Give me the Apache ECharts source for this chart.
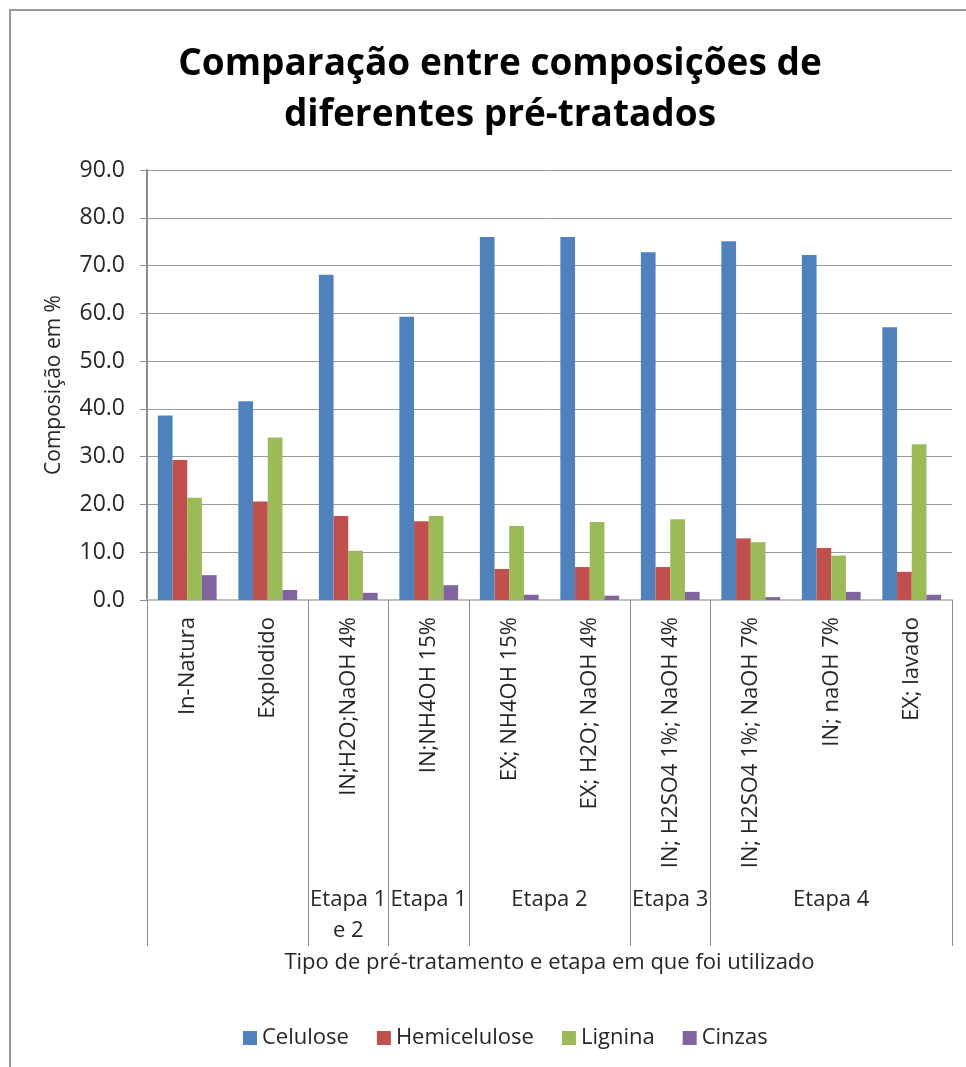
<!DOCTYPE html>
<html>
<head>
<meta charset="utf-8">
<script src="https://cdn.jsdelivr.net/npm/echarts@6/dist/echarts.min.js"></script>
<style>
  html, body { margin: 0; padding: 0; background: #ffffff; }
  #chart { width: 966px; height: 1067px; }
</style>
</head>
<body>
<div id="chart"></div>
<script>
// Pre-treatments (x categories)
const categories = [
  'In-Natura', 'Explodido', 'IN;H2O;NaOH 4%', 'IN;NH4OH 15%', 'EX; NH4OH 15%',
  'EX; H2O; NaOH 4%', 'IN; H2SO4 1%; NaOH 4%', 'IN; H2SO4 1%; NaOH 7%', 'IN; naOH 7%', 'EX; lavado'
];

// Composition in % for each component
const celulose     = [38.6, 41.6, 68.1, 59.3, 76.0, 76.0, 72.8, 75.1, 72.2, 57.1];
const hemicelulose = [29.3, 20.6, 17.6, 16.5,  6.5,  6.9,  6.9, 12.9, 10.9,  5.9];
const lignina      = [21.4, 34.0, 10.3, 17.6, 15.5, 16.3, 16.9, 12.1,  9.3, 32.6];
const cinzas       = [ 5.2,  2.1,  1.5,  3.1,  1.1,  0.9,  1.7,  0.6,  1.7,  1.1];

// Stage groups: label, first and last category index of each group
const stageNames = ['', 'Etapa 1\ne 2', 'Etapa 1', 'Etapa 2', 'Etapa 3', 'Etapa 4'];
const stageStart = [0, 2, 3, 4, 6, 7];
const stageEnd   = [1, 2, 3, 5, 6, 9];

const yTicks = { min: 0, max: 90, step: 10 };

const FONT = '"Open Sans", Lato, "Noto Sans", sans-serif';
const TXT = '#262626';
const FS = 22;

const chart = echarts.init(document.getElementById('chart'), null, { renderer: 'canvas' });

function barSeries(name, data, color) {
  return {
    name: name,
    type: 'bar',
    data: data,
    barGap: '0%',
    barCategoryGap: '27%',
    itemStyle: { color: color },
    emphasis: { disabled: true }
  };
}

chart.setOption({
  animation: false,
  backgroundColor: '#ffffff',
  textStyle: { fontFamily: FONT },
  title: {
    text: 'Comparação entre composições de\ndiferentes pré-tratados',
    left: 495,
    textAlign: 'center',
    top: 34,
    textStyle: {
      fontFamily: FONT,
      fontSize: 37,
      fontWeight: 'bold',
      lineHeight: 51,
      color: '#000000'
    }
  },
  grid: { left: 147, right: 14, top: 170, bottom: 467 },
  legend: {
    top: 1022,
    left: 238,
    icon: 'rect',
    itemWidth: 14,
    itemHeight: 14,
    itemGap: 28,
    textStyle: { fontFamily: FONT, fontSize: FS, color: TXT },
    data: ['Celulose', 'Hemicelulose', 'Lignina', 'Cinzas']
  },
  xAxis: {
    type: 'category',
    data: categories,
    name: 'Tipo de pré-tratamento e etapa em que foi utilizado',
    nameLocation: 'middle',
    nameGap: 352,
    nameTextStyle: { fontFamily: FONT, fontSize: FS, color: TXT },
    axisLine: { lineStyle: { color: '#c0c0c0', width: 2 } },
    axisTick: {
      show: true,
      length: 346,
      interval: function (index) { return stageStart.indexOf(index) >= 0; },
      lineStyle: { color: '#8c8c8c', width: 1 }
    },
    axisLabel: {
      interval: 0,
      rotate: 90,
      margin: 17,
      fontFamily: FONT,
      fontSize: FS,
      color: TXT
    },
    splitLine: { show: false }
  },
  yAxis: {
    type: 'value',
    min: yTicks.min,
    max: yTicks.max,
    interval: yTicks.step,
    name: 'Composição em %',
    nameLocation: 'middle',
    nameRotate: 90,
    nameGap: 82,
    nameTextStyle: { fontFamily: FONT, fontSize: 21, color: TXT },
    axisLine: { show: true, lineStyle: { color: '#8c8c8c', width: 2 } },
    axisTick: { show: true, length: 7, lineStyle: { color: '#8c8c8c' } },
    axisLabel: {
      margin: 22,
      fontFamily: FONT,
      fontSize: 23,
      color: TXT,
      formatter: function (v) { return v.toFixed(1); }
    },
    splitLine: { lineStyle: { color: '#999999', width: 1 } }
  },
  series: [
    barSeries('Celulose', celulose, '#4F81BD'),
    barSeries('Hemicelulose', hemicelulose, '#C0504D'),
    barSeries('Lignina', lignina, '#9BBB59'),
    barSeries('Cinzas', cinzas, '#8064A2')
  ]
});

// Stage labels centred under their group of categories, plus the outer chart frame
const stageTexts = stageNames.map(function (name, i) {
  const x0 = chart.convertToPixel({ xAxisIndex: 0 }, categories[stageStart[i]]);
  const x1 = chart.convertToPixel({ xAxisIndex: 0 }, categories[stageEnd[i]]);
  return {
    type: 'text',
    x: (x0 + x1) / 2,
    y: 884,
    style: {
      text: name,
      align: 'center',
      verticalAlign: 'top',
      fontFamily: FONT,
      fontSize: FS,
      lineHeight: 31,
      fill: TXT
    }
  };
});

chart.setOption({
  graphic: [
    {
      type: 'rect',
      shape: { x: 10, y: 10, width: 1000, height: 1100 },
      style: { fill: 'none', stroke: '#9a9a9a', lineWidth: 2 },
      z: -1
    }
  ].concat(stageTexts)
});
</script>
</body>
</html>
